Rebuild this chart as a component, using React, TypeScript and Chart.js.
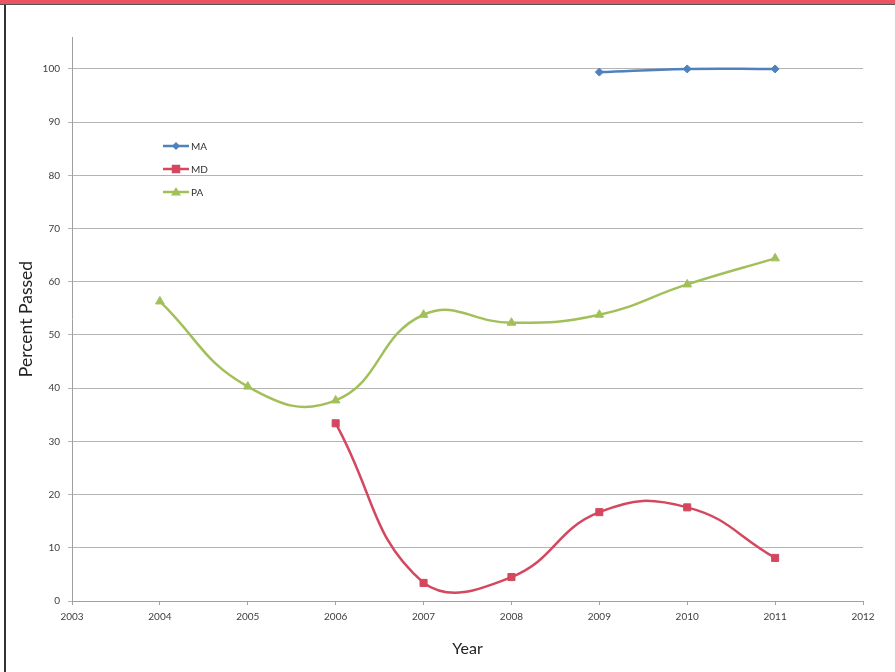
import React, { useEffect, useRef } from "react";
import { Chart, registerables } from "chart.js";

Chart.register(...registerables);

const years = [2004, 2005, 2006, 2007, 2008, 2009, 2010, 2011];
const maValues: (number | null)[] = [null, null, null, null, null, 99.4, 100, 100];
const mdValues: (number | null)[] = [null, null, 33.4, 3.4, 4.5, 16.7, 17.6, 8.1];
const paValues: (number | null)[] = [56.3, 40.3, 37.7, 53.8, 52.3, 53.8, 59.5, 64.4];
const seriesNames = ["MA", "MD", "PA"];
const xMin = 2003;
const xMax = 2012;
const yTickStep = 10;

const FONT = "Lato, 'Open Sans', sans-serif";
const colors = ["#4f81bd", "#d4485f", "#a2c05a"];
const markers = ["rectRot", "rect", "triangle"];
const markerSizes = [4, 5, 5];

function toPoints(vals: (number | null)[]) {
  return years
    .map((y, i) => ({ x: y, y: vals[i] }))
    .filter((p) => p.y !== null) as { x: number; y: number }[];
}

function drawMarker(ctx: CanvasRenderingContext2D, style: string, x: number, y: number, r: number, color: string) {
  ctx.fillStyle = color;
  ctx.beginPath();
  if (style === "rectRot") {
    ctx.moveTo(x, y - r);
    ctx.lineTo(x + r, y);
    ctx.lineTo(x, y + r);
    ctx.lineTo(x - r, y);
  } else if (style === "rect") {
    ctx.rect(x - r * 0.85, y - r * 0.85, r * 1.7, r * 1.7);
  } else {
    ctx.moveTo(x, y - r);
    ctx.lineTo(x + r, y + r * 0.7);
    ctx.lineTo(x - r, y + r * 0.7);
  }
  ctx.closePath();
  ctx.fill();
}

const legendPlugin = {
  id: "insideLegend",
  afterDraw(chart: any) {
    const ctx = chart.ctx;
    const ys = [146, 169, 192];
    ctx.save();
    chart.data.datasets.forEach((ds: any, i: number) => {
      const y = ys[i];
      ctx.strokeStyle = ds.borderColor;
      ctx.lineWidth = 2.5;
      ctx.beginPath();
      ctx.moveTo(163, y);
      ctx.lineTo(189, y);
      ctx.stroke();
      drawMarker(ctx, ds.pointStyle, 176, y, ds.pointRadius, ds.backgroundColor);
      ctx.fillStyle = "#333";
      ctx.font = `10px ${FONT}`;
      ctx.textBaseline = "middle";
      ctx.textAlign = "left";
      ctx.fillText(ds.label, 191, y + 0.5);
    });
    ctx.restore();
  },
};

export default function App() {
  const canvasRef = useRef<HTMLCanvasElement | null>(null);

  useEffect(() => {
    if (!canvasRef.current) return;
    const allVals = [maValues, mdValues, paValues];
    const chart = new Chart(canvasRef.current, {
      type: "line",
      data: {
        datasets: allVals.map((vals, i) => ({
          label: seriesNames[i],
          data: toPoints(vals),
          borderColor: colors[i],
          backgroundColor: colors[i],
          borderWidth: 2.5,
          pointStyle: markers[i] as any,
          pointRadius: markerSizes[i],
          pointBorderWidth: 1,
          tension: 0.45,
          fill: false,
        })),
      },
      options: {
        responsive: false,
        animation: false,
        layout: { padding: { left: 12, right: 32, top: 37, bottom: 10 } },
        plugins: {
          legend: { display: false },
          tooltip: { enabled: false },
        },
        scales: {
          x: {
            type: "linear",
            min: xMin,
            max: xMax,
            ticks: {
              stepSize: 1,
              callback: (v: any) => String(v),
              font: { family: FONT, size: 10 },
              color: "#404040",
              padding: 6,
            },
            grid: {
              display: true,
              drawOnChartArea: false,
              drawTicks: true,
              tickLength: 4,
              color: "#a0a0a0",
            },
            border: { color: "#a0a0a0", width: 1 },
            title: {
              display: true,
              text: "Year",
              font: { family: FONT, size: 16 },
              color: "#222",
              padding: { top: 4, bottom: 4 },
            },
            afterFit: (scale: any) => {
              scale.height = 71 - 10;
            },
          },
          y: {
            type: "linear",
            min: 0,
            max: 106,
            afterBuildTicks: (axis: any) => {
              axis.ticks = axis.ticks.filter((t: any) => t.value % yTickStep === 0);
            },
            ticks: {
              stepSize: yTickStep,
              font: { family: FONT, size: 10 },
              color: "#404040",
              padding: 8,
            },
            grid: {
              color: "#b4b4b4",
              lineWidth: 1,
              tickLength: 4,
            },
            border: { color: "#a0a0a0", width: 1 },
            title: {
              display: true,
              text: "Percent Passed",
              font: { family: FONT, size: 17.5 },
              color: "#222",
              padding: { top: 4, bottom: 4 },
            },
            afterFit: (scale: any) => {
              scale.width = 72 - 12;
            },
          },
        },
      },
      plugins: [legendPlugin],
    });
    return () => chart.destroy();
  }, []);

  return (
    <div
      style={{
        position: "fixed",
        left: 0,
        top: 0,
        width: 895,
        height: 672,
        background: "#fff",
        overflow: "hidden",
      }}
    >
      <canvas
        ref={canvasRef}
        width={895}
        height={672}
        style={{ position: "absolute", left: 0, top: 0, width: 895, height: 672 }}
      />
      <div
        style={{
          position: "absolute",
          left: 0,
          top: 0,
          width: 895,
          height: 4,
          background: "#ec5463",
          borderBottom: "1px solid #555",
        }}
      />
      <div
        style={{
          position: "absolute",
          left: 4,
          top: 5,
          width: 2,
          height: 667,
          background: "#333",
        }}
      />
    </div>
  );
}
